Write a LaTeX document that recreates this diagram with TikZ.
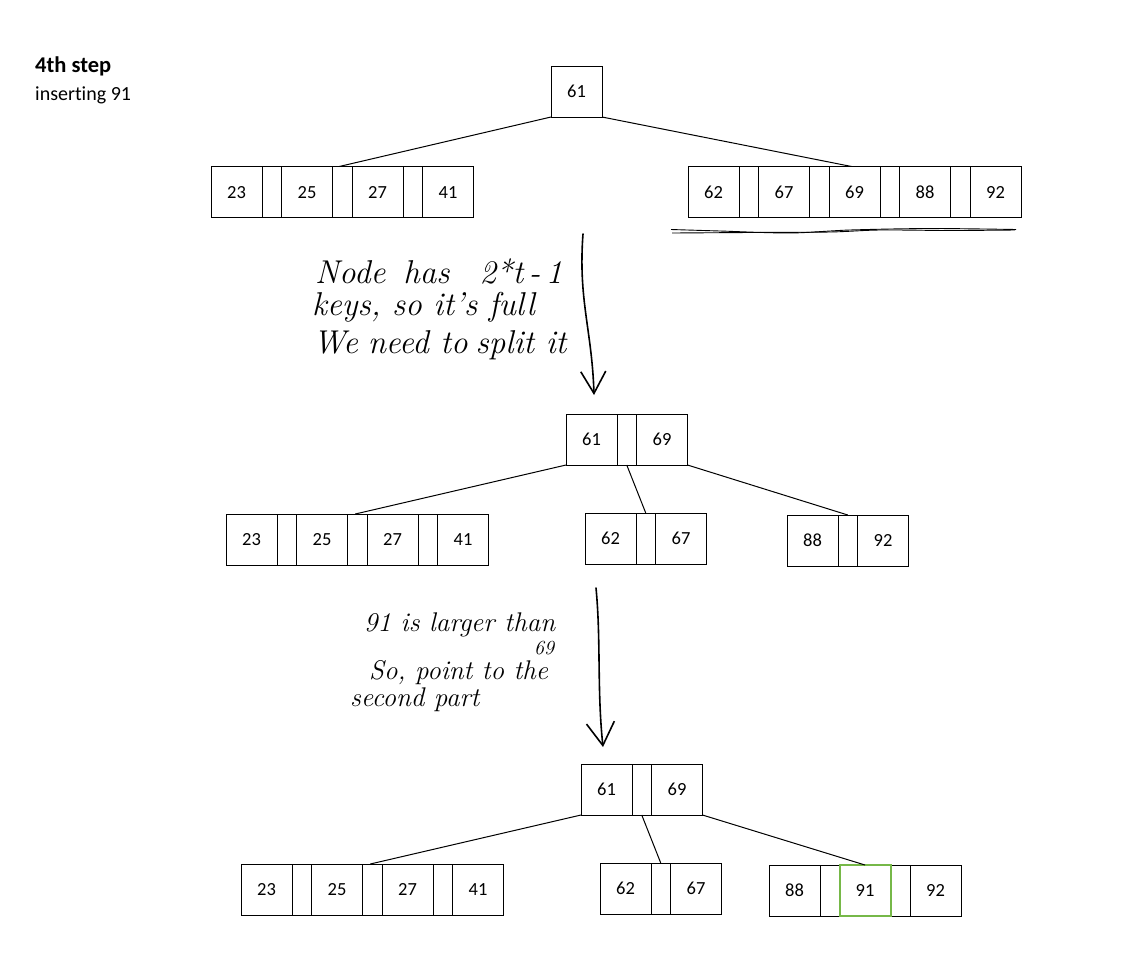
\documentclass[tikz,border=0pt]{standalone}
\usepackage{fontspec}
\newfontfamily\boxfont[Ligatures=NoCommon]{Carlito}
\usetikzlibrary{positioning,arrows.meta}
\definecolor{hlgreen}{RGB}{118,184,72}
\tikzset{
  cell/.style={draw, line width=1pt, outer sep=0pt, minimum width=51pt, minimum height=51pt, inner sep=0pt, text height=12.5pt, text depth=0pt, font=\boxfont\fontsize{18.5}{20}\selectfont},
  gapc/.style={draw, line width=1pt, outer sep=0pt, minimum width=19.5pt, minimum height=51pt, inner sep=0pt},
  edge/.style={line width=1pt},
  hand/.style={line width=1.6pt, line cap=round, line join=round},
  handtext/.style={anchor=base west, inner sep=0pt, font=\itshape\fontsize{33}{35}\selectfont},
  handtexts/.style={anchor=base west, inner sep=0pt, font=\itshape\fontsize{27}{29}\selectfont},
  title/.style={anchor=base west, inner sep=0pt}
}
\begin{document}
\begin{tikzpicture}[x=1pt,y=-1pt]
\useasboundingbox (0,0) rectangle (1121,953);

% title
\node[title, font=\boxfont\bfseries\fontsize{22.5}{24}\selectfont] (ttl) at (35,72) {4th step};
\node[title, font=\boxfont\fontsize{20}{22}\selectfont] (sub) at (35,100) {inserting 91};

% ---------- top tree ----------
\node[cell] (t61) at (576.5,91.5) {61};
\node[cell] (tL1) at (236.5,192) {23};
\node[gapc, right=0pt of tL1] (tLg1) {};
\node[cell, right=0pt of tLg1] (tL2) {25};
\node[gapc, right=0pt of tL2] (tLg2) {};
\node[cell, right=0pt of tLg2] (tL3) {27};
\node[gapc, right=0pt of tL3] (tLg3) {};
\node[cell, right=0pt of tLg3] (tL4) {41};

\node[cell] (tR1) at (713.5,192) {62};
\node[gapc, right=0pt of tR1] (tRg1) {};
\node[cell, right=0pt of tRg1] (tR2) {67};
\node[gapc, right=0pt of tR2] (tRg2) {};
\node[cell, right=0pt of tRg2] (tR3) {69};
\node[gapc, right=0pt of tR3] (tRg3) {};
\node[cell, right=0pt of tRg3] (tR4) {88};
\node[gapc, right=0pt of tR4] (tRg4) {};
\node[cell, right=0pt of tRg4] (tR5) {92};

\draw[edge] (t61.south west) -- ([xshift=-3pt]tLg2.north);
\draw[edge] (t61.south east) -- ([xshift=-3pt]tR3.north);

% wavy underline
\draw[line width=0.9pt] plot[smooth] coordinates {(671,229.5) (720,231) (790,233) (850,230) (930,228.5) (1016,229.5)};
\draw[line width=0.9pt] plot[smooth] coordinates {(672,233) (750,232.5) (830,232) (880,230) (950,230.5) (1015,230)};

% first arrow + note
\coordinate (a1s) at (583,234);
\coordinate (a1e) at (594,395);
\draw[hand, -{Straight Barb[length=22pt,width=25pt,line width=1.6pt]}] (a1s) .. controls (578,300) and (592,330) .. (a1e);
\node[handtext] (n1a) at (315,283) {Node\hspace{18pt}has\hspace{30pt}2*t\,-\,1};
\node[handtext] (n1b) at (312,315) {keys, so it's full};
\node[handtext] (n1c) at (313,353) {We\hspace{10pt}need to\hspace{8pt}split it};

% ---------- middle tree ----------
\node[cell] (m61) at (591.5,439.5) {61};
\node[gapc, right=0pt of m61] (mg) {};
\node[cell, right=0pt of mg] (m69) {69};

\node[cell] (mL1) at (251.5,539.5) {23};
\node[gapc, right=0pt of mL1] (mLg1) {};
\node[cell, right=0pt of mLg1] (mL2) {25};
\node[gapc, right=0pt of mL2] (mLg2) {};
\node[cell, right=0pt of mLg2] (mL3) {27};
\node[gapc, right=0pt of mL3] (mLg3) {};
\node[cell, right=0pt of mLg3] (mL4) {41};

\node[cell] (mM1) at (610.5,538.5) {62};
\node[gapc, right=0pt of mM1] (mMg) {};
\node[cell, right=0pt of mMg] (mM2) {67};

\node[cell] (mR1) at (812.5,540.5) {88};
\node[gapc, right=0pt of mR1] (mRg) {};
\node[cell, right=0pt of mRg] (mR2) {92};

\draw[edge] (m61.south west) -- ([xshift=-2pt]mLg2.north);
\draw[edge] (mg.south) -- (mMg.north);
\draw[edge] (m69.south east) -- (mRg.north);

% second arrow + note
\coordinate (a2s) at (596,588);
\coordinate (a2e) at (603,747);
\draw[hand, -{Straight Barb[length=23pt,width=28pt,line width=1.6pt]}] (a2s) .. controls (601,640) and (597,690) .. (a2e);
\node[handtexts] (n2a) at (364,631) {91 is larger\hspace{10pt}than};
\node[handtexts, font=\itshape\fontsize{20}{22}\selectfont] (n2b) at (534,654) {69};
\node[handtexts] (n2c) at (369,679) {So, point to the};
\node[handtexts] (n2d) at (350,706) {second part};

% ---------- bottom tree ----------
\node[cell] (b61) at (606.5,789.5) {61};
\node[gapc, right=0pt of b61] (bg) {};
\node[cell, right=0pt of bg] (b69) {69};

\node[cell] (bL1) at (266.5,889.5) {23};
\node[gapc, right=0pt of bL1] (bLg1) {};
\node[cell, right=0pt of bLg1] (bL2) {25};
\node[gapc, right=0pt of bL2] (bLg2) {};
\node[cell, right=0pt of bLg2] (bL3) {27};
\node[gapc, right=0pt of bL3] (bLg3) {};
\node[cell, right=0pt of bLg3] (bL4) {41};

\node[cell] (bM1) at (625.5,888.5) {62};
\node[gapc, right=0pt of bM1] (bMg) {};
\node[cell, right=0pt of bMg] (bM2) {67};

\node[cell] (bR1) at (794.5,890.5) {88};
\node[gapc, right=0pt of bR1] (bRg1) {};
\node[gapc, right=51pt of bRg1] (bRg2) {};
\node[cell, right=0pt of bRg2] (bR3) {92};
\node[cell, draw=hlgreen, line width=2pt, right=0pt of bRg1] (bR2) {91};

\draw[edge] (b61.south west) -- ([xshift=-2pt]bLg2.north);
\draw[edge] (bg.south) -- (bMg.north);
\draw[edge] (b69.south east) -- (bR2.north);

\end{tikzpicture}
\end{document}
